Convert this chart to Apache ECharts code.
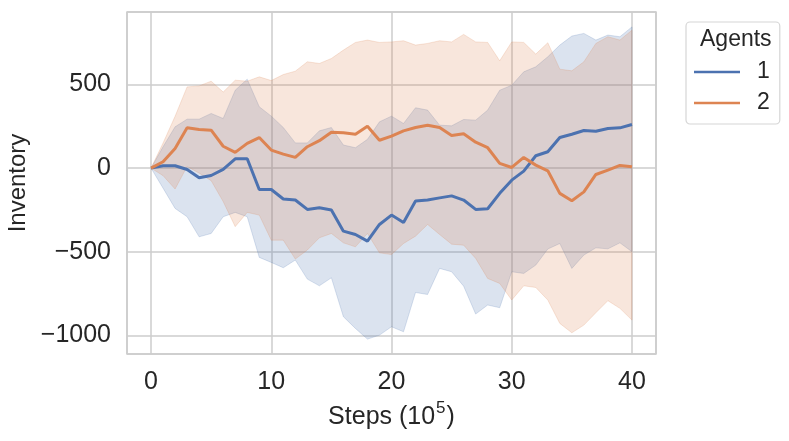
<!DOCTYPE html>
<html>
<head>
<meta charset="utf-8">
<script src="https://cdn.jsdelivr.net/npm/echarts@6/dist/echarts.min.js"></script>
<style>html,body{margin:0;padding:0;background:#fff;}#c{width:789px;height:441px;}</style>
</head>
<body>
<div id="c"></div>
<script>
const steps = Array.from({length: 41}, (_, i) => i);
const blueMean = [0, 14, 14, -8, -58, -44, -8, 56, 56, -128, -128, -185, -191, -247, -237, -251, -377, -397, -437, -337, -281, -325, -197, -191, -178, -166, -191, -247, -243, -151, -72, -18, 74, 98, 183, 203, 225, 221, 237, 241, 261];
const blueUpper = [0, 128, 247, 293, 293, 327, 297, 466, 532, 367, 311, 243, 151, 151, 223, 243, 138, 122, 172, 277, 311, 267, 361, 347, 257, 253, 291, 287, 347, 466, 496, 576, 606, 666, 736, 790, 806, 766, 796, 786, 845];
const blueLower = [0, -120, -241, -291, -411, -391, -291, -265, -291, -534, -564, -596, -550, -664, -704, -656, -889, -959, -1023, -999, -949, -979, -744, -756, -600, -620, -706, -873, -819, -835, -620, -630, -580, -484, -451, -600, -520, -477, -483, -447, -500];
const orangeMean = [0, 38, 118, 241, 231, 227, 131, 94, 148, 183, 108, 84, 64, 128, 164, 215, 211, 203, 251, 167, 191, 223, 243, 257, 243, 195, 205, 155, 122, 28, 4, 64, 18, -16, -151, -195, -142, -38, -12, 16, 8];
const orangeUpper = [0, 150, 310, 486, 492, 520, 455, 526, 520, 546, 524, 560, 580, 636, 626, 656, 706, 752, 766, 752, 755, 762, 736, 746, 762, 755, 800, 755, 752, 642, 755, 752, 682, 750, 592, 582, 636, 746, 786, 766, 825];
const orangeLower = [0, -45, -125, 10, -30, -75, -200, -350, -265, -281, -431, -431, -544, -490, -417, -391, -447, -471, -391, -507, -517, -451, -407, -337, -397, -455, -461, -540, -660, -690, -789, -704, -714, -789, -929, -985, -939, -865, -793, -839, -909];
const agentNames = ['1', '2'];
const yTickValues = [-1000, -500, 0, 500];
const xTickValues = [0, 10, 20, 30, 40];

const BLUE = '#4c72b0', ORANGE = '#dd8452';
const BLUE_A = 'rgba(76,114,176,0.2)', ORANGE_A = 'rgba(221,132,82,0.2)';
const TXT = '#262626';
const FONT = '"Liberation Sans", Arial, Helvetica, sans-serif';

function pairs(arr) { return steps.map((s, i) => [s, arr[i]]); }

function bandSeries(lower, upper, col) {
  const data = steps.map((s, i) => [s, lower[i], upper[i]]);
  return {
    type: 'custom', silent: true, z: 1,
    data: data,
    encode: {x: 0, y: [1, 2]},
    renderItem: function (params, api) {
      if (params.dataIndex !== 0) return null;
      const top = data.map(d => api.coord([d[0], d[2]]));
      const bot = data.map(d => api.coord([d[0], d[1]])).reverse();
      return {
        type: 'polygon',
        shape: {points: top.concat(bot)},
        style: {fill: col, stroke: col, lineWidth: 1}
      };
    }
  };
}

const chart = echarts.init(document.getElementById('c'), null, {renderer: 'canvas'});
chart.setOption({
  animation: false,
  backgroundColor: '#ffffff',
  textStyle: {fontFamily: FONT, color: TXT},
  grid: {left: 127, right: 133, top: 12, bottom: 87, containLabel: false, outerBoundsMode: 'none',
         show: true, borderColor: '#cccccc', borderWidth: 1.5, backgroundColor: 'transparent'},
  xAxis: {
    type: 'value', min: -2, max: 42,
    axisLine: {show: false}, axisTick: {show: false},
    splitLine: {show: true, lineStyle: {color: '#cccccc', width: 1.5}},
    axisLabel: {
      margin: 16, fontSize: 25, color: TXT, fontFamily: FONT,
      formatter: v => xTickValues.includes(v) ? String(v) : ''
    },
    name: '{n|Steps (10}{s|5}{n|)}',
    nameLocation: 'middle', nameGap: 43,
    nameTextStyle: {
      fontSize: 24, color: TXT, fontFamily: FONT,
      rich: {
        n: {fontSize: 25, color: TXT, fontFamily: FONT, lineHeight: 30, verticalAlign: 'bottom'},
        s: {fontSize: 17, color: TXT, fontFamily: FONT, verticalAlign: 'top', lineHeight: 30, padding: [0, 1, 3, 1]}
      }
    }
  },
  yAxis: {
    type: 'value', min: -1112, max: 934,
    axisLine: {show: false}, axisTick: {show: false},
    splitLine: {show: true, lineStyle: {color: '#cccccc', width: 1.5}},
    axisLabel: {
      margin: 16, fontSize: 25, color: TXT, fontFamily: FONT,
      formatter: v => yTickValues.includes(v) ? String(v).replace('-', '\u2212') : ''
    },
    name: 'Inventory', nameLocation: 'middle', nameGap: 88,
    nameTextStyle: {fontSize: 24, color: TXT, fontFamily: FONT}
  },
  legend: {
    orient: 'vertical', left: 686, top: 22,
    padding: [38, 10, 9, 8],
    itemWidth: 46, itemHeight: 2.5, itemGap: 7,
    icon: 'rect',
    backgroundColor: 'rgba(255,255,255,0.8)',
    borderColor: '#d6d6d6', borderWidth: 1.2, borderRadius: 4,
    textStyle: {fontSize: 23, color: TXT, fontFamily: FONT, lineHeight: 24, padding: [0, 0, 0, 12]},
    data: agentNames
  },
  graphic: [{
    type: 'text', left: 700, top: 28, z: 100,
    style: {text: 'Agents', fontSize: 23, fill: TXT, fontFamily: FONT}
  }],
  series: [
    bandSeries(blueLower, blueUpper, BLUE_A),
    bandSeries(orangeLower, orangeUpper, ORANGE_A),
    {
      name: agentNames[0], type: 'line', data: pairs(blueMean), color: BLUE,
      showSymbol: false, symbol: 'none', lineStyle: {width: 3, color: BLUE}, z: 3
    },
    {
      name: agentNames[1], type: 'line', data: pairs(orangeMean), color: ORANGE,
      showSymbol: false, symbol: 'none', lineStyle: {width: 3, color: ORANGE}, z: 3
    }
  ]
});
</script>
</body>
</html>
